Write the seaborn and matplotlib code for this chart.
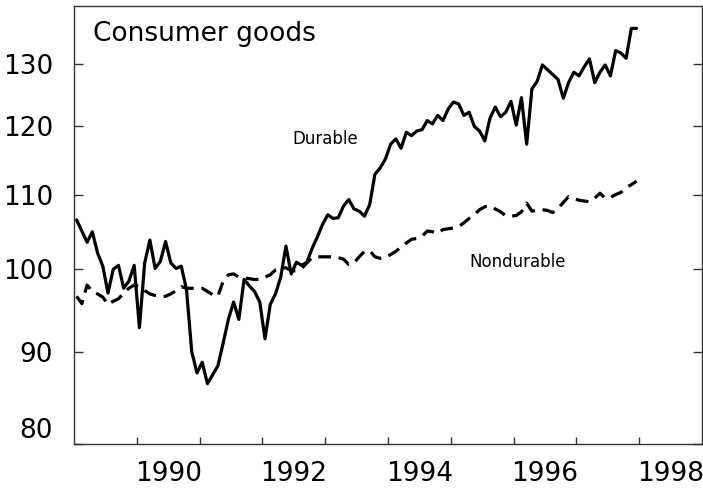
import numpy as np
import pandas as pd
import matplotlib
matplotlib.use("Agg")
import matplotlib.pyplot as plt
import seaborn as sns

# Monthly index values, Jan 1989 - Dec 1997 (log scale chart)
durable = [
    106.5, 105.0, 103.5, 104.9, 102.1, 100.4, 97.0, 100.0, 100.5, 97.6, 98.5, 100.5,
    92.8, 100.8, 103.8, 100.1, 101.0, 103.6, 100.8, 100.1, 100.4, 97.4, 90.0, 87.6,
    88.8, 86.4, 87.4, 88.4, 91.0, 93.8, 95.9, 93.8, 98.7, 97.9, 97.2, 95.9,
    91.5, 95.6, 96.9, 99.0, 103.0, 99.4, 100.9, 100.5, 100.9, 102.7, 104.2, 105.9,
    107.2, 106.7, 106.8, 108.4, 109.3, 108.0, 107.7, 107.0, 108.6, 112.9, 113.8, 115.1,
    117.3, 118.1, 116.7, 119.1, 118.6, 119.3, 119.5, 120.9, 120.4, 121.7, 120.9, 122.7,
    123.8, 123.5, 121.7, 122.2, 120.0, 119.3, 117.8, 121.3, 123.0, 121.5, 122.2, 123.9,
    120.2, 124.5, 117.3, 125.9, 127.1, 129.8, 129.0, 128.2, 127.4, 124.4, 126.9, 128.6,
    128.0, 129.5, 130.8, 126.9, 128.6, 129.8, 128.0, 132.2, 131.8, 130.9, 136.0, 136.0,
]
nondurable = [
    96.6, 95.7, 98.0, 97.2, 96.9, 96.5, 95.6, 96.0, 96.3, 97.0, 97.6, 98.0,
    97.8, 97.3, 96.9, 96.7, 96.6, 96.6, 96.9, 97.3, 97.8, 97.6, 97.6, 97.6,
    97.6, 97.2, 96.8, 96.6, 98.5, 99.3, 99.4, 99.0, 98.9, 98.8, 98.7, 98.7,
    99.0, 99.3, 99.9, 100.1, 100.2, 99.8, 99.8, 100.1, 100.8, 101.5, 101.6, 101.6,
    101.6, 101.6, 101.5, 101.3, 100.6, 100.8, 101.6, 102.3, 102.4, 101.6, 101.4, 101.5,
    101.9, 102.3, 102.9, 103.4, 103.9, 104.0, 104.3, 105.0, 104.9, 104.7, 105.2, 105.3,
    105.4, 105.6, 106.1, 106.7, 107.2, 107.9, 108.3, 108.4, 108.0, 107.6, 107.1, 107.0,
    107.1, 107.6, 108.8, 107.7, 107.8, 107.9, 107.8, 107.5, 108.1, 108.9, 109.7, 109.5,
    109.2, 109.1, 109.0, 109.5, 110.2, 109.5, 109.6, 110.0, 110.3, 111.0, 111.4, 111.9,
]
y_ticks = [80, 90, 100, 110, 120, 130]
year_ticks = [1990, 1991, 1992, 1993, 1994, 1995, 1996, 1997, 1998]
year_labels = ["1990", "1992", "1994", "1996", "1998"]

months = np.arange(len(durable))
t = 1989 + (months + 0.5) / 12.0
df = pd.DataFrame({"t": t, "Durable": durable, "Nondurable": nondurable})

sns.set_theme(style="white")
plt.rcParams["font.family"] = ["DejaVu Sans"]

fig = plt.figure(figsize=(7.03, 4.93), dpi=100)
W, H = 703, 493
x0, x1, y0, y1 = 74, 702, 5.7, 444
ax = fig.add_axes([x0 / W, 1 - y1 / H, (x1 - x0) / W, (y1 - y0) / H])

sns.lineplot(data=df, x="t", y="Durable", ax=ax, color="black", lw=2.3,
             errorbar=None)
sns.lineplot(data=df, x="t", y="Nondurable", ax=ax, color="black", lw=2.3,
             errorbar=None, linestyle=(0, (4.0, 2.4)))

ax.set_yscale("log")
ax.set_xlim(1989, 1999)
ax.set_ylim(80, 140)
ax.set_xlabel("")
ax.set_ylabel("")

ax.yaxis.set_major_locator(matplotlib.ticker.FixedLocator(y_ticks))
ax.yaxis.set_major_formatter(matplotlib.ticker.FixedFormatter([str(v) for v in y_ticks]))
ax.yaxis.set_minor_locator(matplotlib.ticker.NullLocator())

ax.xaxis.set_major_locator(matplotlib.ticker.FixedLocator(year_ticks))
ax.xaxis.set_major_formatter(matplotlib.ticker.NullFormatter())
label_pos = [int(s) + 0.5 for s in year_labels]
ax.xaxis.set_minor_locator(matplotlib.ticker.FixedLocator(label_pos))
ax.xaxis.set_minor_formatter(matplotlib.ticker.FixedFormatter(year_labels))

spine_col = "#333333"
for s in ax.spines.values():
    s.set_visible(True)
    s.set_color(spine_col)
    s.set_linewidth(1.0)

ax.tick_params(axis="y", which="major", direction="in", length=6.5, width=1.0,
               color=spine_col, left=True, right=True, labelleft=True,
               labelright=False, labelsize=19, pad=15, labelcolor="black")
ax.tick_params(axis="x", which="major", direction="in", length=5, width=1.0,
               color=spine_col, bottom=True, top=False)
ax.tick_params(axis="x", which="minor", length=0, labelsize=19, pad=12,
               labelcolor="black")

fig.canvas.draw()
for lab in ax.get_yticklabels():
    if lab.get_text() == "80":
        lab.set_va("bottom")

ax.text(0.03, 0.920, "Consumer goods", transform=ax.transAxes, fontsize=19,
        va="baseline", ha="left", color="black")
ax.text(0.348, 0.684, "Durable", transform=ax.transAxes, fontsize=12,
        va="baseline", ha="left", color="black")
ax.text(0.630, 0.4045, "Nondurable", transform=ax.transAxes, fontsize=12,
        va="baseline", ha="left", color="black")

fig.savefig("out.png", dpi=100)
